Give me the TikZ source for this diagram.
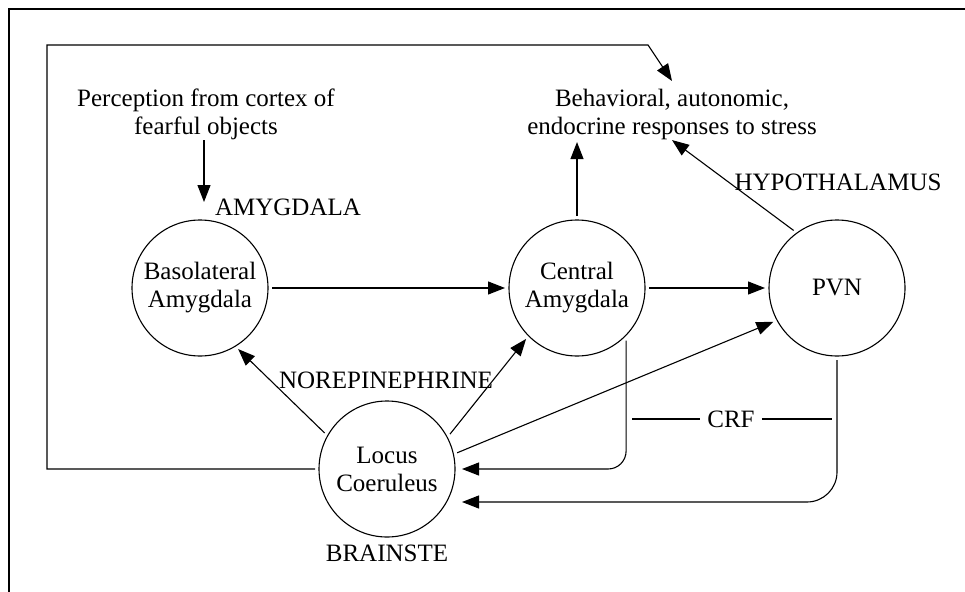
\documentclass[tikz,border=0pt]{standalone}
\usepackage{fontspec}
\setmainfont{Liberation Serif}
\usetikzlibrary{arrows.meta}
\tikzset{
  stage/.style={circle,draw,line width=1.1pt,minimum size=136pt,inner sep=0pt,outer sep=4pt,align=center,font=\fontsize{25}{28}\selectfont},
  lbl/.style={inner sep=0pt,font=\fontsize{25}{28}\selectfont},
  arr/.style={line width=1.1pt,-{Triangle[length=17pt,width=13pt]}},
  plain/.style={line width=1.1pt},
}
\begin{document}
\begin{tikzpicture}[x=1pt,y=-1pt]
\useasboundingbox (0,0) rectangle (965,591);
\clip (0,0) rectangle (965,591);
% frame
\coordinate (fr1) at (9,640);
\coordinate (fr2) at (9,9);
\coordinate (fr3) at (1000,9);
\draw[line width=1.5pt] (fr1) -- (fr2) -- (fr3);
% circles
\node[stage] (bl) at (200,288) {Basolateral\\Amygdala};
\node[stage] (ca) at (577,288) {Central\\Amygdala};
\node[stage] (pvn) at (837,288) {PVN};
\node[stage] (lc) at (387,469) {Locus\\Coeruleus};
% texts
\node[lbl,align=center,anchor=north] (perc) at (206,89) {Perception from cortex of\\fearful objects};
\node[lbl,align=center,anchor=north] (beh) at (672,89) {Behavioral, autonomic,\\endocrine responses to stress};
\node[lbl,anchor=base] (amyg) at (288,215) {AMYGDALA};
\node[lbl,anchor=base] (hypo) at (838,190) {HYPOTHALAMUS};
\node[lbl,anchor=base] (nore) at (386,388) {NOREPINEPHRINE};
\node[lbl,anchor=base] (brain) at (387,561) {BRAINSTE};
\node[lbl,inner xsep=7pt] (crf) at (731,419) {CRF};
% connectors
\draw[arr,shorten >=14pt] ([xshift=-2pt]perc.south) -- ([xshift=-2pt]perc.south |- bl.north);
\draw[arr] (bl.east) -- (ca.west);
\draw[arr] (ca.east) -- (pvn.west);
\draw[arr,shorten >=2pt] (ca.north) -- (ca.north |- beh.south);
\draw[arr] (pvn.127) -- (beh.south);
\draw[arr] (lc.150) -- (bl.-58);
\draw[arr] (lc.29) -- (ca.-135);
\draw[arr] (lc.13) -- (pvn.208);
% CRF returns
\draw[arr,rounded corners=18pt] (ca.-47) |- ([xshift=3pt]lc.east);
\draw[arr,rounded corners=30pt] (pvn.south) |- ([xshift=3pt,yshift=-33pt]lc.east);
\coordinate (crfl) at (632,419);
\coordinate (crfr) at (832,419);
\draw[plain] (crfl) -- (crf.west);
\draw[plain] (crf.east) -- (crfr);
% outer loop
\coordinate (lp1) at (47,45);
\coordinate (lp2) at (648,45);
\draw[arr] (lc.west) -| (lp1) -- (lp2) -- ([yshift=8pt]beh.north);
\end{tikzpicture}
\end{document}
